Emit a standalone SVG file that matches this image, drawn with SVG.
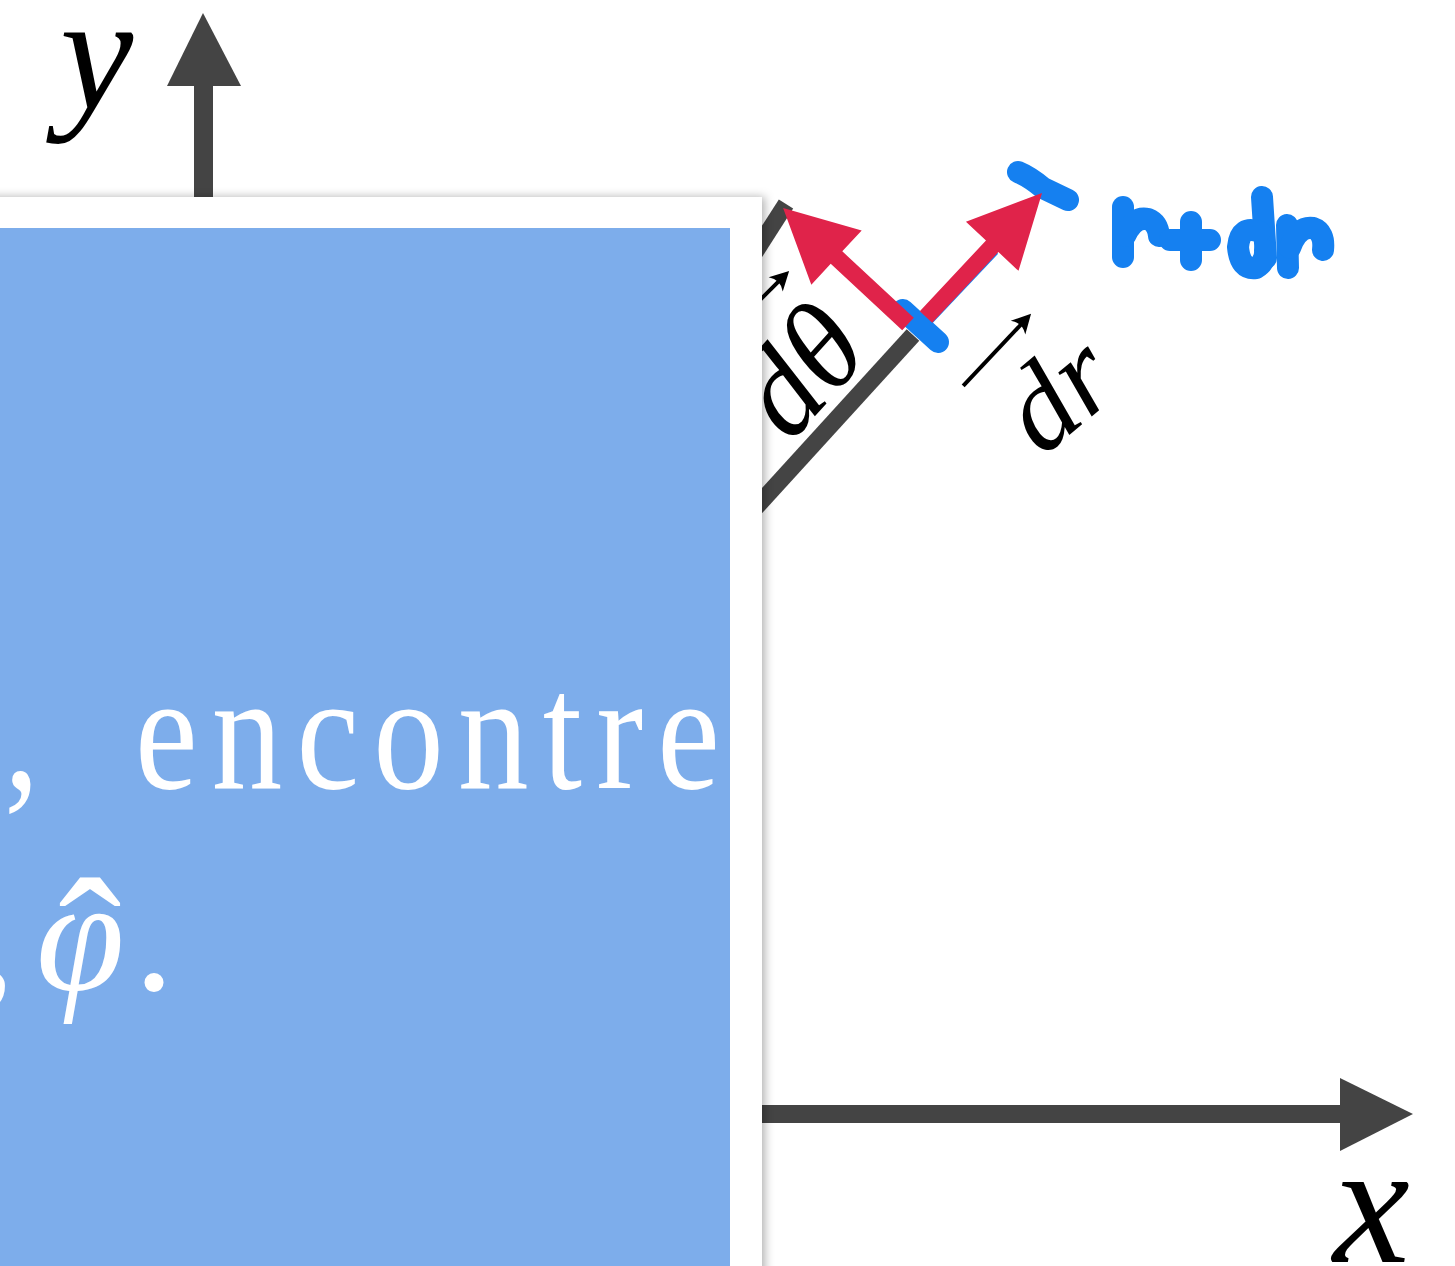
<svg xmlns="http://www.w3.org/2000/svg" width="1455" height="1266" viewBox="0 0 1455 1266">
<defs>
<style>
.axis{fill:#444444}
.radial{stroke:#444444;stroke-width:17;fill:none}
.red{fill:#E0234A}
.blue{stroke:#1580F0;stroke-width:22;stroke-linecap:round;stroke-linejoin:round;fill:none}
.math{font-family:"Liberation Serif","DejaVu Serif",serif;font-style:italic;fill:#000}
.white{font-family:"Liberation Serif","DejaVu Serif",serif;fill:#ffffff}
.vec{stroke:#000;stroke-width:4;fill:none}
</style>
<filter id="sh" x="-10%" y="-10%" width="120%" height="120%">
<feDropShadow dx="3" dy="0" stdDeviation="5" flood-color="#000" flood-opacity="0.3"/>
</filter>
</defs>
<rect width="1455" height="1266" fill="#ffffff"/>

<g id="connectors">
<g id="y-axis">
<rect class="axis" x="194" y="84" width="19" height="140"/>
<polygon class="axis" points="167,86 241,86 203,13"/>
</g>
<g id="x-axis">
<rect class="axis" x="700" y="1105" width="642" height="18"/>
<polygon class="axis" points="1340,1078 1340,1151 1413,1114"/>
</g>
<line class="radial" x1="203" y1="1114" x2="913" y2="335"/>
<line class="radial" x1="203" y1="1114" x2="786" y2="204"/>
</g>

<g id="blue-marks">
<line class="blue" stroke-width="25" x1="903" y1="310" x2="938" y2="342"/>
<line x1="925" y1="321" x2="993" y2="249" stroke="#1580F0" stroke-width="14"/>
<path class="blue" d="M1018,172 Q1030,177 1043,188 L1068,200"/>
</g>

<g id="unit-theta">
<g transform="translate(908,324) rotate(-137.1)">
<polygon class="red" points="0,-8.5 97.6,-8.5 97.6,-37 170.5,0 97.6,37 97.6,8.5 0,8.5"/>
</g>
</g>
<g id="unit-r">
<g transform="translate(926,317) rotate(-46.9)">
<polygon class="red" points="0,-8.5 96.9,-8.5 96.9,-36 169.8,0 96.9,36 96.9,8.5 0,8.5"/>
</g>
</g>

<g id="label-dr">
<g transform="translate(1029,316) rotate(-46.7)">
<line class="vec" x1="-96" y1="0" x2="-4" y2="0"/>
<path d="M3,0 L-16,-10 Q-9,0 -16,10 Z" fill="#000"/>
</g>
<text class="math" font-size="120" transform="translate(1042,458) rotate(-40)">dr</text>
</g>

<g id="label-dtheta">
<g transform="translate(787,273) rotate(-45)">
<line class="vec" x1="-60" y1="0" x2="-4" y2="0"/>
<path d="M3,0 L-16,-10 Q-9,0 -16,10 Z" fill="#000"/>
</g>
<text class="math" font-size="125" transform="translate(790,444) rotate(-48)">dθ</text>
</g>

<g id="label-rdr">
<path class="blue" d="M1123,207 L1123,257"/>
<path class="blue" d="M1125,236 Q1134,216 1148,219 Q1158,223 1159,236"/>
<path class="blue" d="M1170,240 L1210,240 M1191,222 L1191,260"/>
<path class="blue" d="M1262,197 L1266,258"/>
<path class="blue" d="M1260,232 Q1240,224 1238,247 Q1240,270 1256,268 Q1266,262 1265,250"/>
<path class="blue" d="M1287,225 L1288,268"/>
<path class="blue" d="M1290,248 Q1298,226 1313,228 Q1325,232 1323,250"/>
</g>

<g id="label-y"><text class="math" font-size="165" x="60" y="109">y</text></g>
<g id="label-x"><text class="math" font-size="173" x="1333" y="1262">x</text></g>

<g id="card">
<rect x="-30" y="197" width="792" height="1120" fill="#ffffff" filter="url(#sh)"/>
<rect x="-30" y="228" width="760" height="1060" fill="#7DADEB"/>
<text class="white" font-size="168" letter-spacing="16.9" transform="translate(0,788) scale(0.84,1)" x="4.8" y="0">, <tspan dx="38">encontre</tspan></text>
<text class="white" font-size="160" x="-25" y="990">,</text>
<text class="white" font-size="160" font-style="italic" x="36" y="990">φ</text>
<text class="white" font-size="190" text-anchor="middle" x="90" y="1010">ˆ</text>
<text class="white" font-size="160" x="134" y="990">.</text>
</g>
</svg>
